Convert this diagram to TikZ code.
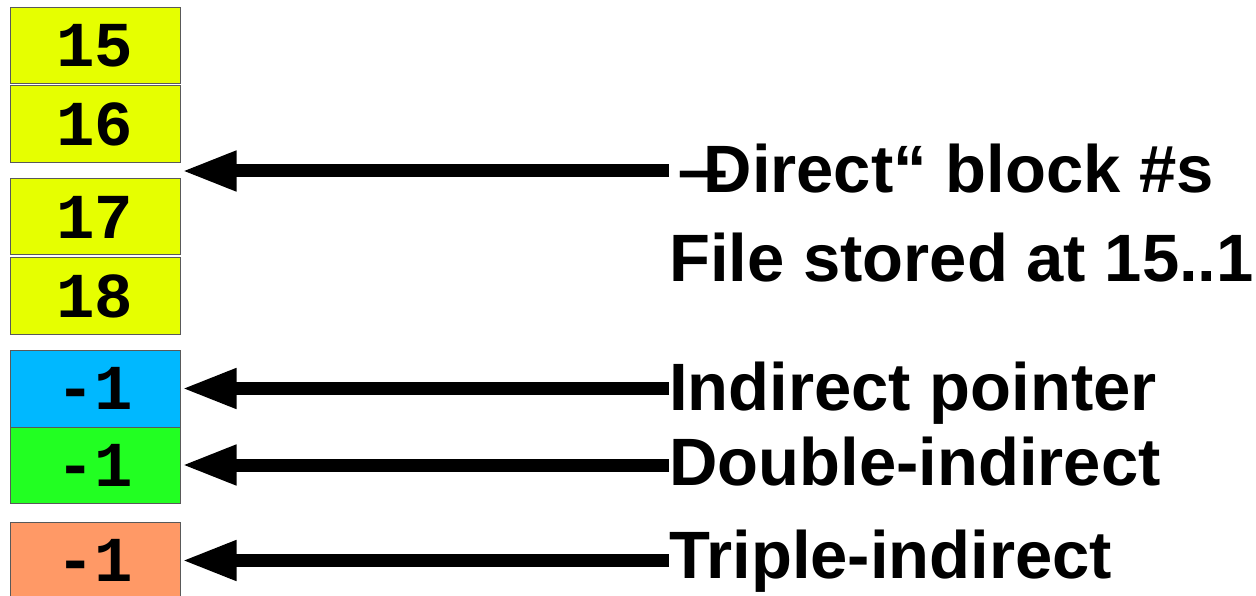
\documentclass[tikz,border=0pt]{standalone}
\usepackage{fontspec}
\setmainfont{Liberation Sans}
\newfontfamily\blockfont{Liberation Mono}
\usetikzlibrary{arrows.meta,calc}

\definecolor{dirYellow}{RGB}{230,255,0}
\definecolor{indBlue}{RGB}{0,184,255}
\definecolor{dblGreen}{RGB}{34,255,34}
\definecolor{triOrange}{RGB}{255,153,102}

\tikzset{
  blockbox/.style={draw=black!65, line width=1pt, minimum width=170pt,
    inner sep=0pt, font=\blockfont\bfseries\fontsize{64}{64}\selectfont},
  labeltext/.style={anchor=base west, inner sep=0pt,
    font=\bfseries\fontsize{67}{67}\selectfont},
  pointer/.style={line width=13pt, -{Triangle[length=55pt,width=37pt]}}
}

\begin{document}
\begin{tikzpicture}[x=1pt,y=-1pt]
  \useasboundingbox (0,0) rectangle (1256,596);

  % inode block-number slots
  \node[blockbox, fill=dirYellow, minimum height=76pt] (b15) at (95,46) {15};
  \node[blockbox, fill=dirYellow, minimum height=77pt] (b16) at (95,124.5) {16};
  \node[blockbox, fill=dirYellow, minimum height=76pt] (b17) at (95,217) {17};
  \node[blockbox, fill=dirYellow, minimum height=76pt] (b18) at (95,296) {18};
  \node[blockbox, fill=indBlue, minimum height=77pt] (ind) at (95,388.5) {-1};
  \node[blockbox, fill=dblGreen, minimum height=76pt] (dbl) at (95,465) {-1};
  \node[blockbox, fill=triOrange, minimum height=77pt] (tri) at (95,560.5) {-1};

  % point between the second and third direct slots
  \coordinate (dgap) at ($(b16.south east)!0.5!(b17.north east)$);

  % labels
  \node[labeltext] (ldirect) at (677,193)
    {\scalebox{1.38}[1]{–}\kern-25pt Direct“ block \#s};
  \node[labeltext] (lfile) at (669,281) {File stored at 15..1};
  \node[labeltext] (lind) at (669,410) {Indirect pointer};
  \node[labeltext] (ldbl) at (669,485) {Double-indirect};
  \node[labeltext] (ltri) at (669,578) {Triple-indirect};

  % pointers
  \draw[pointer] ([xshift=-8pt]ldirect.west |- dgap) -- ([xshift=1pt]dgap);
  \draw[pointer] (lind.west |- ind.east) -- ([xshift=1pt]ind.east);
  \draw[pointer] (ldbl.west |- dbl.east) -- ([xshift=1pt]dbl.east);
  \draw[pointer] (ltri.west |- tri.east) -- ([xshift=1pt]tri.east);
\end{tikzpicture}
\end{document}
